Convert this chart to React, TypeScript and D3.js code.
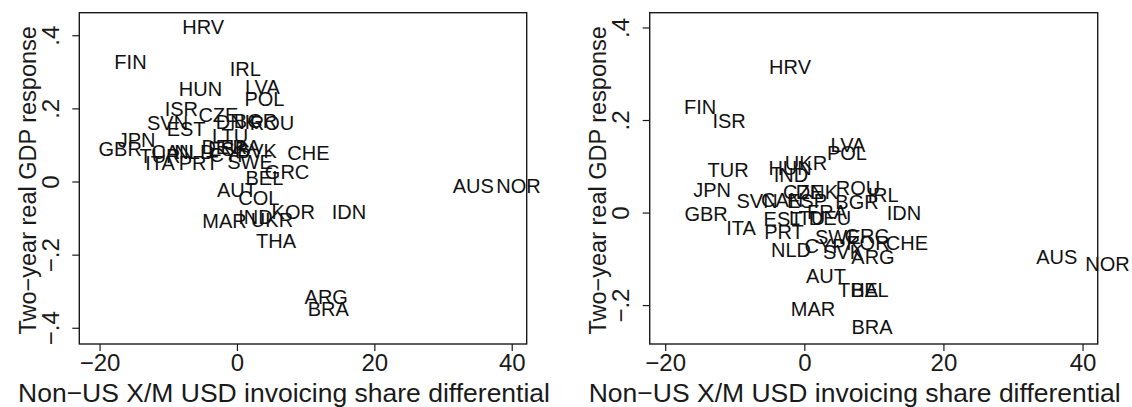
import { useEffect, useRef } from 'react';
import * as d3 from 'd3';

// left panel
const leftCountries = ['HRV', 'FIN', 'IRL', 'HUN', 'LVA', 'POL', 'ISR', 'CZE', 'SVN', 'DNK', 'BGR', 'ROU', 'EST', 'LTU', 'JPN', 'GBR', 'CAN', 'NLD', 'TUR', 'ITA', 'PRT', 'DEU', 'ESP', 'FRA', 'CYP', 'SVK', 'SWE', 'CHE', 'BEL', 'GRC', 'AUT', 'COL', 'IND', 'KOR', 'IDN', 'MAR', 'UKR', 'THA', 'AUS', 'NOR', 'ARG', 'BRA'];
const leftX = [-4.9, -15.5, 1.2, -5.3, 3.7, 4.0, -8.1, -2.7, -10.1, 0.0, 2.7, 5.1, -7.4, -1.0, -14.6, -17.0, -9.4, -6.2, -11.2, -11.2, -5.6, -2.1, -1.3, 0.5, -1.0, 2.9, 1.9, 10.4, 4.0, 7.3, 0.0, 3.2, 2.7, 8.2, 16.3, -1.8, 5.1, 5.7, 34.4, 41.0, 13.0, 13.3];
const leftY = [0.423, 0.327, 0.308, 0.253, 0.259, 0.226, 0.199, 0.182, 0.16, 0.163, 0.166, 0.16, 0.144, 0.125, 0.116, 0.089, 0.081, 0.081, 0.07, 0.053, 0.053, 0.095, 0.089, 0.095, 0.075, 0.084, 0.056, 0.078, 0.012, 0.026, -0.023, -0.045, -0.095, -0.081, -0.081, -0.108, -0.103, -0.16, -0.01, -0.01, -0.314, -0.347];

// right panel
const rightCountries = ['HRV', 'FIN', 'ISR', 'LVA', 'POL', 'UKR', 'HUN', 'IND', 'TUR', 'JPN', 'CZE', 'DNK', 'ROU', 'IRL', 'SVN', 'CAN', 'ESP', 'BGR', 'IDN', 'GBR', 'EST', 'LTU', 'FRA', 'DEU', 'ITA', 'PRT', 'SWE', 'GRC', 'CHE', 'NLD', 'CYP', 'SVK', 'KOR', 'ARG', 'AUT', 'THA', 'BEL', 'MAR', 'BRA', 'AUS', 'NOR'];
const rightX = [-2.05, -14.99, -10.82, 6.28, 6.13, 0.24, -2.05, -1.91, -10.96, -13.26, -0.19, 1.82, 7.72, 11.31, -6.8, -3.2, 0.39, 7.57, 14.32, -14.12, -3.06, 0.39, 3.26, 3.69, -9.09, -2.92, 4.81, 8.97, 14.76, -1.91, 2.97, 5.56, 9.15, 9.87, 3.12, 7.72, 9.42, 1.25, 9.73, 36.3, 43.6];
const rightY = [0.316, 0.23, 0.2, 0.146, 0.129, 0.109, 0.098, 0.083, 0.094, 0.049, 0.046, 0.046, 0.055, 0.04, 0.025, 0.029, 0.025, 0.023, 0.001, -0.003, -0.012, -0.01, 0.003, -0.01, -0.033, -0.042, -0.051, -0.049, -0.064, -0.079, -0.072, -0.085, -0.064, -0.094, -0.137, -0.167, -0.167, -0.208, -0.247, -0.094, -0.111];

const xTicks = [-20, 0, 20, 40];
const leftYTicks = [-0.4, -0.2, 0, 0.2, 0.4];
const rightYTicks = [-0.2, 0, 0.2, 0.4];

const xTitle = 'Non\u2212US X/M USD invoicing share differential';
const yTitle = 'Two\u2212year real GDP response';

const fmt = (v: number) => {
  if (v === 0) return '0';
  const s = String(Math.abs(v)).replace(/^0/, '');
  return (v < 0 ? '\u2212' : '') + s;
};

const font = "'Liberation Sans', Arial, Helvetica, sans-serif";
const ink = '#1a1a1a';

interface Panel {
  left: number;
  right: number;
  countries: string[];
  xs: number[];
  ys: number[];
  xDomain: [number, number];
  yDomain: [number, number];
  yTicks: number[];
}

export default function App() {
  const svgRef = useRef<SVGSVGElement>(null);

  useEffect(() => {
    if (!svgRef.current) return;
    const svg = d3.select(svgRef.current);
    svg.selectAll('*').remove();

    const top = 12.7;
    const bottom = 344;

    const panels: Panel[] = [
      { left: 79.3, right: 526.7, countries: leftCountries, xs: leftX, ys: leftY, xDomain: [-22.95, 42.18], yDomain: [-0.443, 0.463], yTicks: leftYTicks },
      { left: 649.7, right: 1097.7, countries: rightCountries, xs: rightX, ys: rightY, xDomain: [-22.23, 42.18], yDomain: [-0.283, 0.433], yTicks: rightYTicks },
    ];

    panels.forEach((p) => {
      const x = d3.scaleLinear().domain(p.xDomain).range([p.left, p.right]);
      const y = d3.scaleLinear().domain(p.yDomain).range([bottom, top]);
      const g = svg.append('g');

      g.append('rect')
        .attr('x', p.left)
        .attr('y', top)
        .attr('width', p.right - p.left)
        .attr('height', bottom - top)
        .attr('fill', 'none')
        .attr('stroke', ink)
        .attr('stroke-width', 1.4);

      g.append('g')
        .attr('transform', `translate(0,${bottom})`)
        .call(d3.axisBottom(x).tickValues(xTicks).tickSize(7).tickPadding(3).tickFormat((d) => fmt(+d)))
        .call((a) => a.select('.domain').remove())
        .call((a) => a.selectAll('line').attr('stroke', ink).attr('stroke-width', 1.2))
        .selectAll('text')
        .attr('fill', ink)
        .style('font-family', font)
        .style('font-size', '24px');

      const ya = g.append('g')
        .attr('transform', `translate(${p.left},0)`)
        .call(d3.axisLeft(y).tickValues(p.yTicks).tickSize(7).tickFormat((d) => fmt(+d)));
      ya.select('.domain').remove();
      ya.selectAll('.tick').attr('transform', null);
      ya.selectAll<SVGLineElement, number>('.tick line')
        .attr('y1', (d) => y(d))
        .attr('y2', (d) => y(d))
        .attr('stroke', ink)
        .attr('stroke-width', 1.2);
      ya.selectAll<SVGTextElement, number>('text')
        .attr('x', null)
        .attr('dy', '0.35em')
        .attr('y', 0)
        .attr('fill', ink)
        .attr('text-anchor', 'middle')
        .attr('transform', (d) => `translate(${-29},${y(d)}) rotate(-90)`)
        .style('font-family', font)
        .style('font-size', '24px');

      // country labels sit centred on their points, no markers
      g.append('g')
        .selectAll('text')
        .data(p.countries)
        .join('text')
        .attr('x', (_, i) => x(p.xs[i]))
        .attr('y', (_, i) => y(p.ys[i]))
        .attr('text-anchor', 'middle')
        .attr('dominant-baseline', 'central')
        .attr('fill', '#111')
        .style('font-family', font)
        .style('font-size', '20px')
        .text((d) => d);

      g.append('text')
        .attr('x', (p.left + p.right) / 2 - 19)
        .attr('y', 402)
        .attr('text-anchor', 'middle')
        .attr('fill', ink)
        .style('font-family', font)
        .style('font-size', '26.5px')
        .text(xTitle);

      g.append('text')
        .attr('transform', `translate(${p.left - 52},${(top + bottom) / 2 + 2}) rotate(-90)`)
        .attr('dy', '0.35em')
        .attr('text-anchor', 'middle')
        .attr('fill', ink)
        .style('font-family', font)
        .style('font-size', '23.5px')
        .text(yTitle);
    });
  }, []);

  return (
    <svg
      ref={svgRef}
      width={1132}
      height={407}
      style={{ position: 'absolute', left: 0, top: 0, background: '#fff' }}
    />
  );
}
